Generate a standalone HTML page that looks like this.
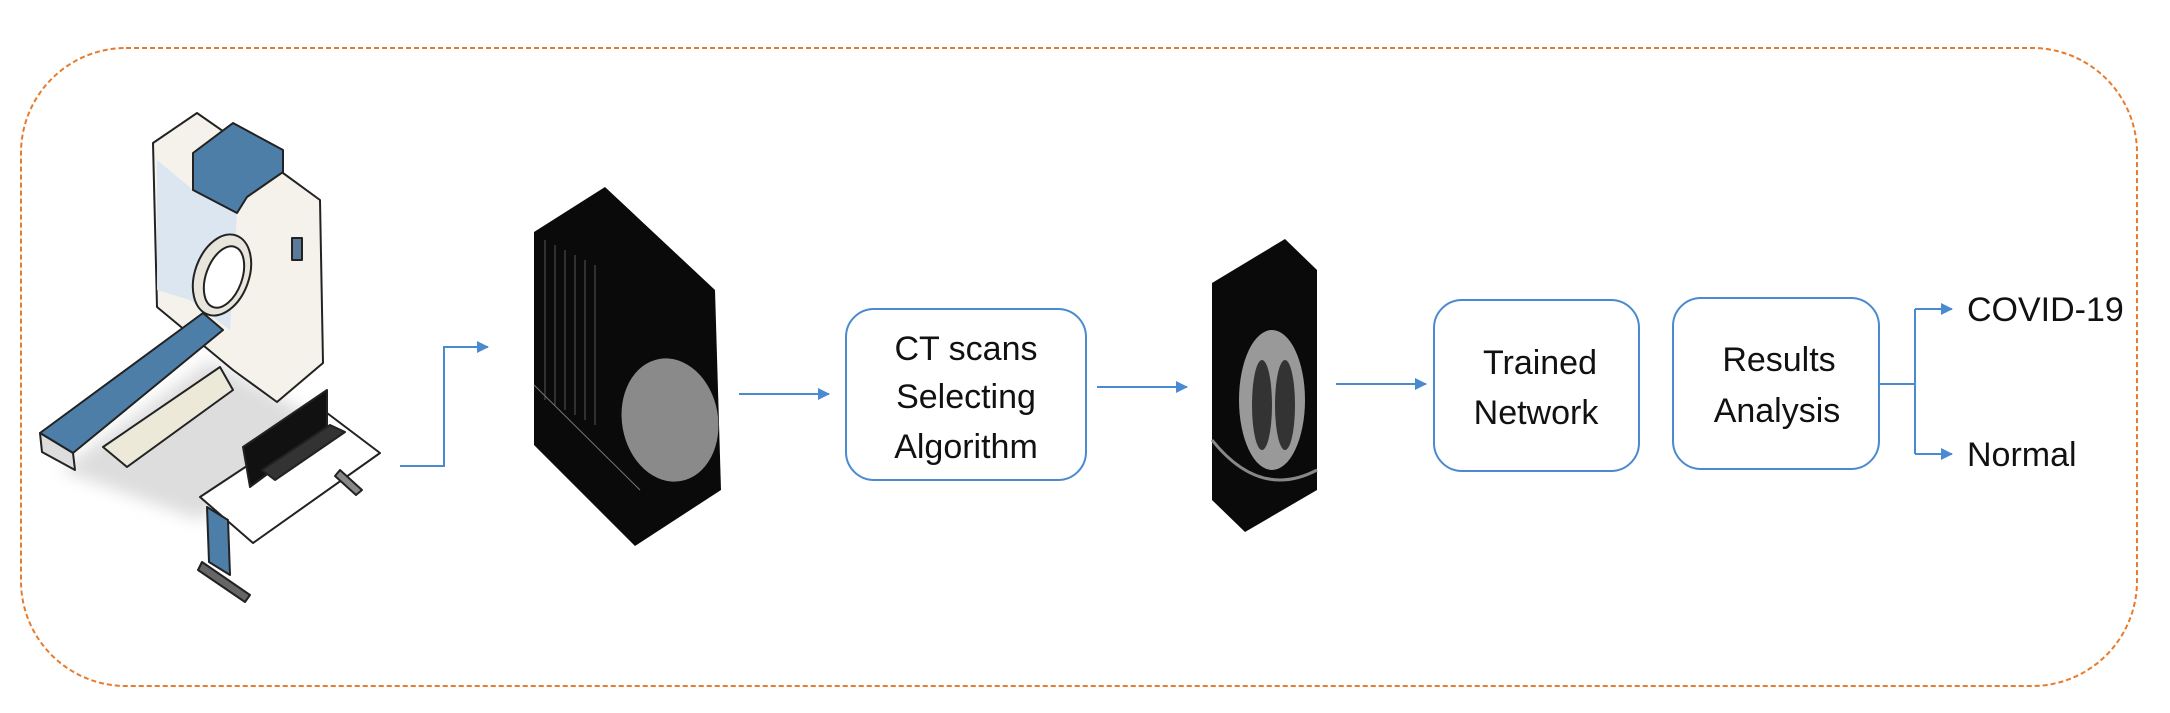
<!DOCTYPE html>
<html><head><meta charset="utf-8"><style>
html,body{margin:0;padding:0;background:#fff;}
svg{display:block}
text{font-family:"Liberation Sans",sans-serif;font-size:34px;fill:#111;}
</style></head><body>
<svg width="2170" height="713" viewBox="0 0 2170 713" xmlns="http://www.w3.org/2000/svg">
<defs>
<marker id="ah" markerWidth="12" markerHeight="12" refX="11" refY="6" orient="auto" markerUnits="userSpaceOnUse">
<path d="M0,0 L12,6 L0,12 z" fill="#4a8ad0"/></marker>
<filter id="bl"><feGaussianBlur stdDeviation="8"/></filter>
</defs>
<rect x="21" y="48" width="2116" height="638" rx="105" ry="105" fill="none" stroke="#e87b2a" stroke-width="2" stroke-dasharray="5,3"/>

<!-- scanner illustration -->
<g stroke="#222" stroke-width="2" stroke-linejoin="round">
<path d="M60,470 L210,360 L320,420 L200,520 Z" fill="#ddd" stroke="none" filter="url(#bl)"/>
<path d="M153,143 L197,113 L283,173 L320,200 L323,363 L277,402 L233,370 L157,307 Z" fill="#f4f2ea"/>
<path d="M157,160 L193,190 L237,213 L230,330 L190,300 L157,290 Z" fill="#dbe6f0" stroke="none"/>
<ellipse cx="222" cy="275" rx="27" ry="42" transform="rotate(20 222 275)" fill="#e8e6dc"/>
<ellipse cx="224" cy="277" rx="18" ry="32" transform="rotate(20 224 277)" fill="#fff"/>
<path d="M193,153 L233,123 L283,150 L283,172 L247,197 L237,213 L193,190 Z" fill="#4d7ea8"/>
<rect x="292" y="238" width="10" height="22" fill="#5a7a9a"/>
<path d="M103,447 L220,367 L233,390 L127,467 Z" fill="#ece9d8"/>
<path d="M40,433 L203,313 L223,330 L73,453 Z" fill="#4d7ea8"/>
<path d="M40,433 L73,453 L75,470 L42,452 Z" fill="#ddd"/>
<path d="M200,497 L327,413 L380,453 L253,543 Z" fill="#fff"/>
<path d="M243,447 L327,390 L327,430 L250,487 Z" fill="#111"/>
<path d="M262,470 L330,425 L345,432 L275,480 Z" fill="#333"/>
<path d="M207,507 L228,520 L230,575 L209,562 Z" fill="#4d7ea8"/>
<path d="M202,562 L250,595 L245,602 L198,570 Z" fill="#666"/>
<path d="M340,470 L362,490 L356,495 L335,476 Z" fill="#888"/>
</g>

<!-- connectors -->
<g stroke="#4a8ad0" stroke-width="2" fill="none">
<path d="M400,466 H444 V347 H488" marker-end="url(#ah)"/>
<path d="M739,394 H829" marker-end="url(#ah)"/>
<path d="M1097,387 H1187" marker-end="url(#ah)"/>
<path d="M1336,384 H1426" marker-end="url(#ah)"/>
<path d="M1879,384 H1915"/>
<path d="M1915,309 V454"/>
<path d="M1915,309 H1952" marker-end="url(#ah)"/>
<path d="M1915,454 H1952" marker-end="url(#ah)"/>
</g>

<!-- CT stack 1 -->
<path d="M534,232 L605,187 L715,290 L721,490 L635,546 L534,445 Z" fill="#0a0a0a"/>
<g stroke="#555" stroke-width="1">
<line x1="545" y1="240" x2="545" y2="400"/><line x1="555" y1="245" x2="555" y2="405"/>
<line x1="565" y1="250" x2="565" y2="410"/><line x1="575" y1="255" x2="575" y2="415"/>
<line x1="585" y1="260" x2="585" y2="420"/><line x1="595" y1="265" x2="595" y2="425"/>
<line x1="534" y1="385" x2="640" y2="490" stroke="#777"/>
</g>
<ellipse cx="670" cy="420" rx="48" ry="62" transform="rotate(-10 670 420)" fill="#8a8a8a"/>

<!-- CT stack 2 -->
<path d="M1212,283 L1285,239 L1317,270 L1317,490 L1245,532 L1212,500 Z" fill="#0a0a0a"/>
<ellipse cx="1272" cy="400" rx="33" ry="70" fill="#999"/>
<ellipse cx="1262" cy="405" rx="10" ry="45" fill="#333"/>
<ellipse cx="1285" cy="405" rx="10" ry="45" fill="#333"/>
<path d="M1212,440 Q1260,500 1317,470" stroke="#888" stroke-width="3" fill="none"/>

<!-- boxes -->
<g fill="#fff" stroke="#4a8ad0" stroke-width="2">
<rect x="846" y="309" width="240" height="171" rx="28"/>
<rect x="1434" y="300" width="205" height="171" rx="28"/>
<rect x="1673" y="298" width="206" height="171" rx="28"/>
</g>
<g text-anchor="middle">
<text x="966" y="360">CT scans</text>
<text x="966" y="408">Selecting</text>
<text x="966" y="458">Algorithm</text>
<text x="1540" y="374">Trained</text>
<text x="1536" y="424">Network</text>
<text x="1779" y="371">Results</text>
<text x="1777" y="422">Analysis</text>
</g>
<text x="1967" y="321">COVID-19</text>
<text x="1967" y="466">Normal</text>
</svg>
</body></html>
